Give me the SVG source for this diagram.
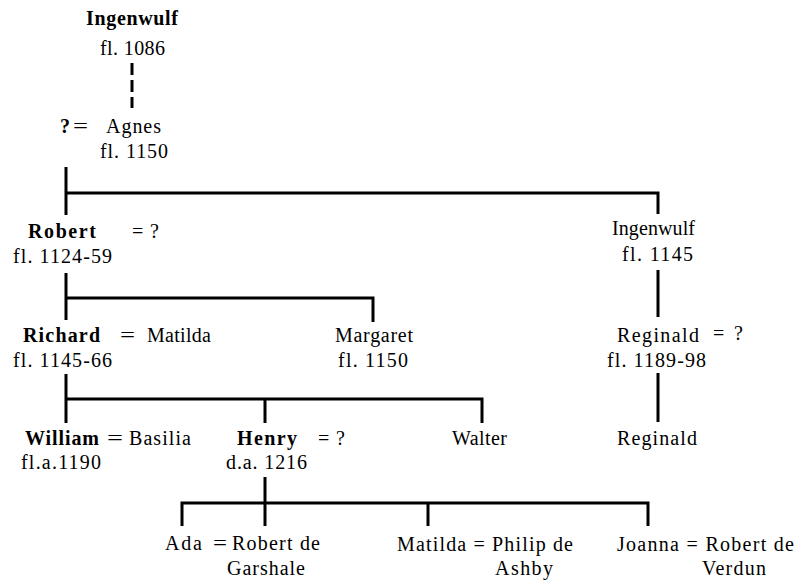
<svg xmlns="http://www.w3.org/2000/svg" width="798" height="583" viewBox="0 0 798 583">
<style>
.t text{font-family:"Liberation Serif","Times New Roman","DejaVu Serif",serif;font-size:20px;fill:#000}
.b{font-weight:bold}
.ln{fill:none;stroke:#000;stroke-width:3}
.dash{stroke-dasharray:12 5}
</style>
<rect width="798" height="583" fill="#fff"/>
<g id="connectors">
<path class="ln dash" d="M132 63V108"/>
<path class="ln" d="M66 167V215M66 193H658V214"/>
<path class="ln" d="M66 273V320M66 298H373V322"/>
<path class="ln" d="M66 374V423M66 399H482V423M265 399V423"/>
<path class="ln" d="M265 477V526M182 526V503H648V526M428 503V526"/>
<path class="ln" d="M658 270V317M658 373V422"/>
</g>
<g class="t" font-family="Liberation Serif, Times New Roman, serif">
<g id="ingenwulf1086">
<text class="b" x="86" y="25" textLength="92" lengthAdjust="spacing">Ingenwulf</text>
<text x="100" y="55" textLength="65" lengthAdjust="spacing">fl. 1086</text>
</g>
<g id="agnes">
<text class="b" x="60" y="133">?</text>
<text x="73" y="133" textLength="15" lengthAdjust="spacingAndGlyphs">=</text>
<text x="106" y="133" textLength="55" lengthAdjust="spacing">Agnes</text>
<text x="100" y="158" textLength="68" lengthAdjust="spacing">fl. 1150</text>
</g>
<g id="robert">
<text class="b" x="28" y="238" textLength="68" lengthAdjust="spacing">Robert</text>
<text x="132" y="238" textLength="27" lengthAdjust="spacing">= ?</text>
<text x="13" y="263" textLength="99" lengthAdjust="spacing">fl. 1124-59</text>
</g>
<g id="ingenwulf1145">
<text x="612" y="235" textLength="83" lengthAdjust="spacing">Ingenwulf</text>
<text x="622" y="261" textLength="71" lengthAdjust="spacing">fl. 1145</text>
</g>
<g id="richard">
<text class="b" x="23" y="342" textLength="77" lengthAdjust="spacing">Richard</text>
<text x="120" y="342" textLength="15" lengthAdjust="spacingAndGlyphs">=</text>
<text x="147" y="342" textLength="64" lengthAdjust="spacing">Matilda</text>
<text x="13" y="367" textLength="99" lengthAdjust="spacing">fl. 1145-66</text>
</g>
<g id="margaret">
<text x="335" y="342" textLength="78" lengthAdjust="spacing">Margaret</text>
<text x="338" y="367" textLength="70" lengthAdjust="spacing">fl. 1150</text>
</g>
<g id="reginald1189">
<text x="617" y="342" textLength="82" lengthAdjust="spacing">Reginald</text>
<text x="713" y="340" textLength="30" lengthAdjust="spacing">= ?</text>
<text x="607" y="367" textLength="99" lengthAdjust="spacing">fl. 1189-98</text>
</g>
<g id="william">
<text class="b" x="25" y="445" textLength="74" lengthAdjust="spacing">William</text>
<text x="107" y="445" textLength="16" lengthAdjust="spacingAndGlyphs">=</text>
<text x="129" y="445" textLength="62" lengthAdjust="spacing">Basilia</text>
<text x="21" y="469" textLength="80" lengthAdjust="spacing">fl.a.1190</text>
</g>
<g id="henry">
<text class="b" x="237" y="445" textLength="60" lengthAdjust="spacing">Henry</text>
<text x="318" y="445" textLength="27" lengthAdjust="spacing">= ?</text>
<text x="226" y="469" textLength="81" lengthAdjust="spacing">d.a. 1216</text>
</g>
<g id="walter">
<text x="452" y="445" textLength="55" lengthAdjust="spacing">Walter</text>
</g>
<g id="reginald">
<text x="617" y="445" textLength="80" lengthAdjust="spacing">Reginald</text>
</g>
<g id="ada">
<text x="165" y="550" textLength="37" lengthAdjust="spacing">Ada</text>
<text x="213" y="550" textLength="14" lengthAdjust="spacingAndGlyphs">=</text>
<text x="232" y="550" textLength="88" lengthAdjust="spacing">Robert de</text>
<text x="227" y="575" textLength="78" lengthAdjust="spacing">Garshale</text>
</g>
<g id="matilda">
<text x="397" y="551" textLength="176" lengthAdjust="spacing">Matilda = Philip de</text>
<text x="495" y="575" textLength="58" lengthAdjust="spacing">Ashby</text>
</g>
<g id="joanna">
<text x="617" y="551" textLength="177" lengthAdjust="spacing">Joanna = Robert de</text>
<text x="702" y="575" textLength="64" lengthAdjust="spacing">Verdun</text>
</g>
</g>
</svg>
